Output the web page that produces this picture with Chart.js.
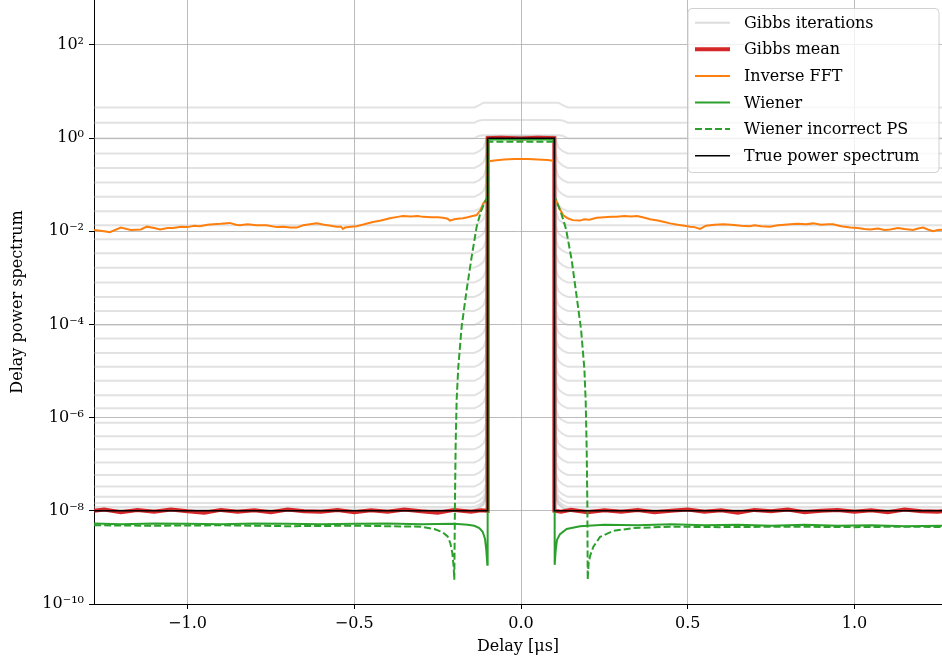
<!DOCTYPE html>
<html>
<head>
<meta charset="utf-8">
<script src="https://cdn.jsdelivr.net/npm/chart.js@4/dist/chart.umd.min.js"></script>
<style>
  html, body { margin: 0; padding: 0; background: #fff; }
</style>
</head>
<body>
<canvas id="chart" width="942" height="664"></canvas>
<script>
// Axis ranges and ticks (delay in microseconds, power as log10 exponents)
const X_MIN = -1.2804;
const X_MAX = 1.2624;
const X_TICKS = [-1.0, -0.5, 0.0, 0.5, 1.0];
const X_TICK_LABELS = ['\u22121.0', '\u22120.5', '0.0', '0.5', '1.0'];
const Y_MIN_EXP = -10;
const Y_MAX_EXP = 2.965;
const Y_TICK_EXPS = [-10, -8, -6, -4, -2, 0, 2];
const Y_TICK_LABELS = ['10\u207b\u00b9\u2070', '10\u207b\u2078', '10\u207b\u2076', '10\u207b\u2074', '10\u207b\u00b2', '10\u2070', '10\u00b2'];

// Gibbs iterations: level outside the window, level inside |delay| < 0.1 (log10)
const GIBBS_OUT = [0.66, 0.33, 0.0, -0.33, -0.64, -0.95, -1.26, -1.57, -1.87, -2.17, -2.47,
  -2.78, -3.10, -3.41, -3.71, -4.01, -4.30, -4.61, -4.91, -5.21, -5.52, -5.80, -6.11,
  -6.40, -6.68, -6.96, -7.23, -7.48, -7.70, -7.83, -7.92, -7.97, -7.99];
const GIBBS_IN = [0.76, 0.39, 0.06, 0.03, 0.02, 0.03, 0.02, 0.01, 0.02, 0.03, 0.02,
  0.01, 0.02, 0.02, 0.03, 0.01, 0.02, 0.02, 0.01, 0.03, 0.02, 0.01, 0.02,
  0.02, 0.01, 0.02, 0.03, 0.01, 0.02, 0.01, 0.02, 0.01, 0.0];
// rise of each iteration just outside the window edge
const GIBBS_EDGE_X = [0.14, 0.125, 0.112, 0.104];
const GIBBS_EDGE_RISE = [0, 0.05, 0.13, 0.3];

// Gibbs mean [delay, log10 power]
const GIBBS_MEAN = [
  [-1.28, -8.00], [-1.25, -7.97], [-1.2, -8.03], [-1.15, -7.98], [-1.1, -8.02], [-1.05, -7.97],
  [-1.0, -8.01], [-0.95, -8.04], [-0.9, -7.98], [-0.85, -8.02], [-0.8, -7.99], [-0.75, -8.03],
  [-0.7, -7.97], [-0.65, -8.01], [-0.6, -8.02], [-0.55, -7.98], [-0.5, -8.03], [-0.45, -7.99],
  [-0.4, -8.02], [-0.35, -7.97], [-0.3, -8.01], [-0.25, -8.04], [-0.2, -7.98], [-0.15, -8.02],
  [-0.12, -7.99], [-0.1, -8.0], [-0.1, 0.0], [-0.06, 0.01], [0.0, -0.01], [0.05, 0.01],
  [0.1, 0.0], [0.1, -8.0], [0.12, -8.02], [0.15, -7.98], [0.2, -8.03], [0.25, -7.99],
  [0.3, -8.02], [0.35, -7.98], [0.4, -8.03], [0.45, -8.0], [0.5, -7.97], [0.55, -8.02],
  [0.6, -7.99], [0.65, -8.04], [0.7, -7.98], [0.75, -8.01], [0.8, -7.97], [0.85, -8.03],
  [0.9, -8.0], [0.95, -7.98], [1.0, -8.02], [1.05, -7.99], [1.1, -8.03], [1.15, -7.97],
  [1.2, -8.01], [1.25, -8.02], [1.28, -7.99]
];

// Inverse FFT [delay, log10 power]
const INVERSE_FFT = [
  [-1.28, -1.97], [-1.25, -2.00], [-1.233, -2.02], [-1.2, -1.92], [-1.17, -1.97], [-1.14, -1.96],
  [-1.122, -1.90], [-1.1, -1.93], [-1.082, -1.96], [-1.06, -1.93], [-1.043, -1.93], [-1.02, -1.90],
  [-1.0, -1.91], [-0.98, -1.88], [-0.963, -1.89], [-0.94, -1.86], [-0.923, -1.85], [-0.9, -1.84],
  [-0.873, -1.82], [-0.855, -1.86], [-0.843, -1.87], [-0.82, -1.85], [-0.793, -1.87], [-0.763, -1.87],
  [-0.733, -1.91], [-0.71, -1.90], [-0.693, -1.92], [-0.673, -1.92], [-0.653, -1.87], [-0.633, -1.85],
  [-0.613, -1.83], [-0.59, -1.86], [-0.57, -1.88], [-0.553, -1.90], [-0.54, -1.90], [-0.534, -1.95],
  [-0.528, -1.92], [-0.51, -1.90], [-0.493, -1.89], [-0.47, -1.85], [-0.444, -1.80], [-0.42, -1.77],
  [-0.393, -1.72], [-0.37, -1.69], [-0.354, -1.67], [-0.33, -1.68], [-0.31, -1.67], [-0.294, -1.69],
  [-0.27, -1.70], [-0.25, -1.70], [-0.234, -1.71], [-0.22, -1.73], [-0.213, -1.77], [-0.2, -1.74],
  [-0.19, -1.73], [-0.174, -1.72], [-0.16, -1.70], [-0.145, -1.67], [-0.133, -1.65], [-0.122, -1.55],
  [-0.113, -1.40], [-0.105, -1.33], [-0.1, -1.30], [-0.1, -0.50], [-0.08, -0.48], [-0.05, -0.46],
  [-0.02, -0.45], [0.0, -0.45], [0.02, -0.45], [0.05, -0.46], [0.08, -0.47], [0.1, -0.49],
  [0.1, -1.30], [0.105, -1.33], [0.115, -1.50], [0.126, -1.65], [0.14, -1.72], [0.155, -1.76],
  [0.177, -1.77], [0.19, -1.74], [0.205, -1.75], [0.227, -1.71], [0.25, -1.70], [0.27, -1.69],
  [0.287, -1.69], [0.31, -1.67], [0.33, -1.68], [0.347, -1.67], [0.365, -1.70], [0.387, -1.74],
  [0.41, -1.77], [0.43, -1.80], [0.447, -1.83], [0.47, -1.86], [0.49, -1.88], [0.507, -1.90],
  [0.52, -1.91], [0.537, -1.95], [0.555, -1.88], [0.58, -1.86], [0.607, -1.85], [0.63, -1.86],
  [0.66, -1.88], [0.687, -1.89], [0.7, -1.87], [0.72, -1.89], [0.747, -1.90], [0.77, -1.87],
  [0.79, -1.86], [0.807, -1.85], [0.83, -1.84], [0.855, -1.85], [0.876, -1.83], [0.9, -1.86],
  [0.92, -1.85], [0.936, -1.85], [0.96, -1.89], [0.987, -1.92], [1.01, -1.93], [1.03, -1.95],
  [1.047, -1.96], [1.07, -1.94], [1.09, -1.97], [1.107, -1.96], [1.13, -1.93], [1.15, -1.95],
  [1.176, -1.97], [1.19, -1.94], [1.206, -1.92], [1.22, -1.96], [1.236, -2.00], [1.25, -1.97],
  [1.28, -1.96]
];

// Wiener filter [delay, log10 power]
const WIENER = [
  [-1.28, -8.27], [-1.2, -8.29], [-1.1, -8.27], [-1.0, -8.28], [-0.9, -8.29], [-0.8, -8.27],
  [-0.7, -8.28], [-0.6, -8.29], [-0.5, -8.28], [-0.4, -8.27], [-0.3, -8.29], [-0.2, -8.28],
  [-0.16, -8.30], [-0.14, -8.32], [-0.125, -8.37], [-0.115, -8.45], [-0.108, -8.60],
  [-0.104, -8.85], [-0.101, -9.16], [-0.1, -0.03], [0.1, -0.03], [0.101, -9.16], [0.104, -8.85],
  [0.108, -8.62], [0.117, -8.50], [0.137, -8.39], [0.177, -8.33], [0.25, -8.30], [0.35, -8.31],
  [0.45, -8.29], [0.55, -8.31], [0.65, -8.30], [0.75, -8.32], [0.85, -8.30], [0.95, -8.32],
  [1.05, -8.31], [1.15, -8.33], [1.28, -8.32]
];

// Wiener with incorrect power spectrum [delay, log10 power]
const WIENER_BAD_PS = [
  [-1.28, -8.31], [-1.1, -8.32], [-0.9, -8.31], [-0.7, -8.33], [-0.5, -8.32], [-0.3, -8.34],
  [-0.26, -8.39], [-0.235, -8.46], [-0.22, -8.55], [-0.212, -8.69], [-0.206, -8.90],
  [-0.202, -9.20], [-0.2, -9.48], [-0.198, -7.80], [-0.196, -6.60], [-0.193, -5.62],
  [-0.188, -4.91], [-0.178, -4.05], [-0.163, -3.26], [-0.148, -2.55], [-0.133, -1.90],
  [-0.12, -1.57], [-0.108, -1.37], [-0.1, -1.25], [-0.1, -0.08], [0.1, -0.08], [0.1, -1.25],
  [0.108, -1.38], [0.12, -1.60], [0.135, -1.95], [0.152, -2.62], [0.165, -3.30], [0.18, -4.10],
  [0.19, -4.95], [0.194, -5.65], [0.197, -6.70], [0.199, -7.90], [0.2, -9.48], [0.203, -9.10],
  [0.208, -8.95], [0.217, -8.77], [0.237, -8.56], [0.277, -8.43], [0.337, -8.37], [0.45, -8.34],
  [0.6, -8.35], [0.8, -8.34], [1.0, -8.35], [1.15, -8.34], [1.28, -8.35]
];

// True power spectrum [delay, log10 power]
const TRUE_PS = [[-1.28, -8], [-0.1, -8], [-0.1, 0], [0.1, 0], [0.1, -8], [1.28, -8]];

const SERIF = 'DejaVu Serif';
const STYLES = {
  gibbs: { label: 'Gibbs iterations', color: 'rgba(185,185,185,0.42)', width: 2, dash: [] },
  mean: { label: 'Gibbs mean', color: '#d62728', width: 4, dash: [] },
  ifft: { label: 'Inverse FFT', color: '#ff7f0e', width: 2, dash: [] },
  wiener: { label: 'Wiener', color: '#2ca02c', width: 2, dash: [] },
  wienerBad: { label: 'Wiener incorrect PS', color: '#2ca02c', width: 2, dash: [7, 3] },
  truth: { label: 'True power spectrum', color: '#000000', width: 1.5, dash: [] }
};
const LEGEND_ORDER = ['gibbs', 'mean', 'ifft', 'wiener', 'wienerBad', 'truth'];

const toPts = pairs => pairs.map(([x, e]) => ({ x: x, y: Math.pow(10, e) }));

function gibbsLine(out, inside) {
  const left = GIBBS_EDGE_X.map((d, i) => [-d, Math.min(out + GIBBS_EDGE_RISE[i], inside)]);
  const right = GIBBS_EDGE_X.map((d, i) => [d, Math.min(out + GIBBS_EDGE_RISE[i], inside)]).reverse();
  return [[-1.28, out], ...left, [-0.1, inside], [0.1, inside], ...right, [1.28, out]];
}

function makeSet(key, pairs) {
  const s = STYLES[key];
  return {
    label: s.label,
    data: toPts(pairs),
    borderColor: s.color,
    borderWidth: s.width,
    borderDash: s.dash,
    pointRadius: 0,
    fill: false,
    tension: 0
  };
}

// first dataset is drawn on top
const datasets = [
  makeSet('truth', TRUE_PS),
  makeSet('wienerBad', WIENER_BAD_PS),
  makeSet('wiener', WIENER),
  makeSet('ifft', INVERSE_FFT),
  makeSet('mean', GIBBS_MEAN)
];
GIBBS_OUT.forEach((lvl, i) => datasets.push(makeSet('gibbs', gibbsLine(lvl, GIBBS_IN[i]))));

// matplotlib-like legend box in the upper right
const boxLegend = {
  id: 'boxLegend',
  afterDraw(chart) {
    const ctx = chart.ctx;
    const right = chart.chartArea.right - 3;
    const x0 = right - 251, y0 = 8.5, w = 251, h = 164, r = 4;
    ctx.save();
    ctx.beginPath();
    ctx.moveTo(x0 + r, y0);
    ctx.arcTo(x0 + w, y0, x0 + w, y0 + h, r);
    ctx.arcTo(x0 + w, y0 + h, x0, y0 + h, r);
    ctx.arcTo(x0, y0 + h, x0, y0, r);
    ctx.arcTo(x0, y0, x0 + w, y0, r);
    ctx.closePath();
    ctx.fillStyle = 'rgba(255,255,255,0.8)';
    ctx.fill();
    ctx.strokeStyle = 'rgba(204,204,204,0.9)';
    ctx.lineWidth = 1;
    ctx.stroke();
    ctx.font = '16px "' + SERIF + '"';
    ctx.textBaseline = 'middle';
    ctx.fillStyle = '#000';
    LEGEND_ORDER.forEach((key, i) => {
      const s = STYLES[key];
      const y = 22.7 + i * 26.6;
      ctx.beginPath();
      ctx.strokeStyle = key === 'gibbs' ? '#dcdcdc' : s.color;
      ctx.lineWidth = s.width;
      ctx.setLineDash(s.dash);
      ctx.moveTo(x0 + 7, y);
      ctx.lineTo(x0 + 42, y);
      ctx.stroke();
      ctx.setLineDash([]);
      ctx.fillText(s.label, x0 + 56, y + 1);
    });
    ctx.restore();
  }
};

const tickFont = { family: SERIF, size: 16 };
const GRID = 'rgba(176,176,176,0.85)';

new Chart(document.getElementById('chart').getContext('2d'), {
  type: 'line',
  data: { datasets: datasets },
  options: {
    responsive: false,
    animation: false,
    devicePixelRatio: 1,
    layout: { padding: 0 },
    plugins: { legend: { display: false }, tooltip: { enabled: false } },
    scales: {
      x: {
        type: 'linear',
        min: X_MIN,
        max: X_MAX,
        afterBuildTicks: s => { s.ticks = X_TICKS.map(v => ({ value: v })); },
        afterFit: s => { s.height = 60; s.paddingLeft = 0; s.paddingRight = 0; },
        ticks: {
          font: tickFont,
          color: '#000',
          padding: 5,
          maxRotation: 0,
          autoSkip: false,
          callback: v => X_TICK_LABELS[X_TICKS.findIndex(t => Math.abs(t - v) < 1e-9)]
        },
        grid: { color: GRID, lineWidth: 1, tickColor: '#000', tickLength: 5 },
        border: { display: true, color: '#000', width: 1 },
        title: { display: true, text: 'Delay [\u03bcs]', font: tickFont, color: '#000', padding: { top: 0, bottom: 8 } }
      },
      y: {
        type: 'logarithmic',
        min: Math.pow(10, Y_MIN_EXP),
        max: Math.pow(10, Y_MAX_EXP),
        afterBuildTicks: s => { s.ticks = Y_TICK_EXPS.map(e => ({ value: Math.pow(10, e) })); },
        afterFit: s => { s.width = 94; s.paddingTop = 0; s.paddingBottom = 0; },
        ticks: {
          font: tickFont,
          color: '#000',
          padding: 5,
          autoSkip: false,
          callback: v => Y_TICK_LABELS[Y_TICK_EXPS.indexOf(Math.round(Math.log10(v)))]
        },
        grid: { color: GRID, lineWidth: 1, tickColor: '#000', tickLength: 5 },
        border: { display: true, color: '#000', width: 1 },
        title: { display: true, text: 'Delay power spectrum', font: tickFont, color: '#000', padding: { top: 8, bottom: 0 } }
      }
    }
  },
  plugins: [boxLegend]
});
</script>
</body>
</html>
